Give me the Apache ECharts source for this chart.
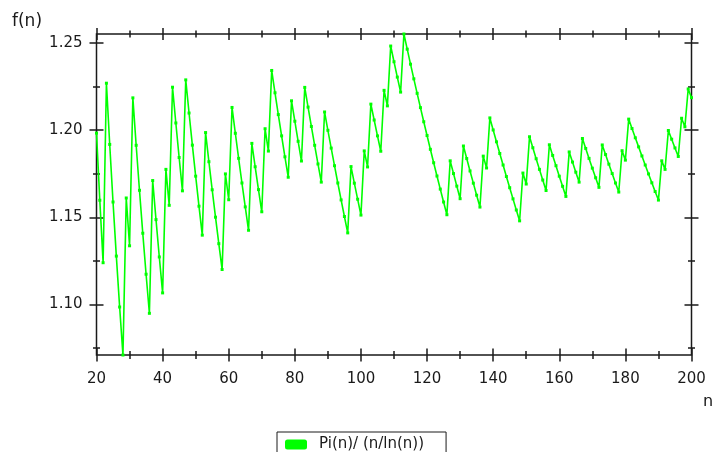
<!DOCTYPE html>
<html>
<head>
<meta charset="utf-8">
<script src="https://cdn.jsdelivr.net/npm/echarts@6/dist/echarts.min.js"></script>
<style>
  html, body { margin: 0; padding: 0; background: #fff; }
  #chart { width: 714px; height: 452px; }
</style>
</head>
<body>
<div id="chart"></div>
<script>
// n values 20..200
var nValues = [];
for (var k = 20; k <= 200; k++) { nValues.push(k); }

// Pi(n)/(n/ln(n)), one per n
var ratioValues = [
  1.1983, 1.1598, 1.1240, 1.2269, 1.1918, 1.1588, 1.1278, 1.0986, 1.0711, 1.1611,
  1.1337, 1.2185, 1.1913, 1.1655, 1.1409, 1.1174, 1.0950, 1.1711, 1.1487, 1.1273,
  1.1067, 1.1775, 1.1569, 1.2246, 1.2041, 1.1843, 1.1652, 1.2288, 1.2098, 1.1914,
  1.1736, 1.1564, 1.1398, 1.1986, 1.1819, 1.1658, 1.1501, 1.1349, 1.1201, 1.1749,
  1.1601, 1.2130, 1.1982, 1.1838, 1.1697, 1.1560, 1.1426, 1.1924, 1.1790, 1.1659,
  1.1532, 1.2008, 1.1880, 1.2342, 1.2214, 1.2089, 1.1967, 1.1847, 1.1730, 1.2168,
  1.2051, 1.1936, 1.1823, 1.2245, 1.2132, 1.2021, 1.1913, 1.1806, 1.1702, 1.2104,
  1.1999, 1.1897, 1.1796, 1.1697, 1.1600, 1.1505, 1.1411, 1.1791, 1.1696, 1.1604,
  1.1513, 1.1881, 1.1789, 1.2149, 1.2058, 1.1967, 1.1879, 1.2228, 1.2139, 1.2482,
  1.2392, 1.2304, 1.2218, 1.2551, 1.2464, 1.2378, 1.2294, 1.2211, 1.2129, 1.2048,
  1.1969, 1.1890, 1.1813, 1.1737, 1.1662, 1.1588, 1.1515, 1.1824, 1.1751, 1.1679,
  1.1607, 1.1909, 1.1837, 1.1766, 1.1696, 1.1627, 1.1559, 1.1851, 1.1783, 1.2070,
  1.2001, 1.1933, 1.1866, 1.1800, 1.1734, 1.1670, 1.1606, 1.1542, 1.1480, 1.1754,
  1.1691, 1.1962, 1.1899, 1.1836, 1.1775, 1.1714, 1.1654, 1.1916, 1.1855, 1.1796,
  1.1736, 1.1678, 1.1620, 1.1875, 1.1817, 1.1759, 1.1702, 1.1952, 1.1895, 1.1838,
  1.1782, 1.1727, 1.1672, 1.1915, 1.1860, 1.1805, 1.1751, 1.1697, 1.1645, 1.1882,
  1.1828, 1.2063, 1.2009, 1.1956, 1.1904, 1.1852, 1.1800, 1.1749, 1.1698, 1.1648,
  1.1599, 1.1824, 1.1775, 1.1998, 1.1948, 1.1898, 1.1849, 1.2068, 1.2019, 1.2236,
  1.2186
];

// tick positions
var xMajorTicks = [20, 40, 60, 80, 100, 120, 140, 160, 180, 200];
var xMinorTicks = [30, 50, 70, 90, 110, 130, 150, 170, 190];
var yMajorTicks = [1.10, 1.15, 1.20, 1.25];
var yMinorTicks = [1.075, 1.125, 1.175, 1.225];

var seriesName = 'Pi(n)/ (n/ln(n))';

var xMin = 20, xMax = 200;
var yMin = Math.min.apply(null, ratioValues);
var yMax = Math.max.apply(null, ratioValues);

var chart = echarts.init(document.getElementById('chart'));

var font = 'DejaVu Sans';
var ink = '#1a1a1a';

//one axis per tick set (major/minor, each side); offset lets the tick straddle the frame
function xAxisFor(pos, ticks, len, showLabel) {
  return {
    type: 'value', position: pos, min: xMin, max: xMax,
    offset: len / 2,
    axisLine: { show: false },
    splitLine: { show: false },
    axisTick: { show: true, inside: true, length: len, customValues: ticks,
      lineStyle: { color: ink, width: 1.5 } },
    axisLabel: { show: showLabel, customValues: ticks, margin: 10,
      color: ink, fontFamily: font, fontSize: 15 }
  };
}
function yAxisFor(pos, ticks, len, showLabel) {
  return {
    type: 'value', position: pos, min: yMin, max: yMax,
    offset: len / 2,
    axisLine: { show: false },
    splitLine: { show: false },
    axisTick: { show: true, inside: true, length: len, customValues: ticks,
      lineStyle: { color: ink, width: 1.5 } },
    axisLabel: { show: showLabel, customValues: ticks, margin: 7,
      color: ink, fontFamily: font, fontSize: 15,
      formatter: function (v) { return v.toFixed(2); } }
  };
}

var points = [];
for (var i = 0; i < nValues.length; i++) {
  points.push([nValues[i], ratioValues[i]]);
}

var option = {
  animation: false,
  backgroundColor: '#fff',
  grid: {
    left: 96.5, right: 22.5, top: 34, bottom: 97,
    show: true, borderColor: ink, borderWidth: 1.5, backgroundColor: 'transparent'
  },
  xAxis: [
    xAxisFor('bottom', xMajorTicks, 13, true),
    xAxisFor('bottom', xMinorTicks, 8, false),
    xAxisFor('top', xMajorTicks, 12, false),
    xAxisFor('top', xMinorTicks, 7, false)
  ],
  yAxis: [
    yAxisFor('left', yMajorTicks, 14, true),
    yAxisFor('left', yMinorTicks, 7, false),
    yAxisFor('right', yMajorTicks, 14, false),
    yAxisFor('right', yMinorTicks, 7, false)
  ],
  legend: {
    left: 277, top: 432,
    data: [seriesName],
    icon: 'roundRect',
    itemWidth: 22, itemHeight: 10,
    padding: [5, 22, 12, 8],
    borderColor: ink, borderWidth: 1,
    textStyle: { color: ink, fontFamily: font, fontSize: 15, padding: [0, 0, 0, 7] }
  },
  graphic: [
    { type: 'text', left: 12, top: 13,
      style: { text: 'f(n)', fill: ink, font: '17px "DejaVu Sans"' } },
    { type: 'text', left: 703, top: 394,
      style: { text: 'n', fill: ink, font: '16px "DejaVu Sans"' } }
  ],
  series: [{
    name: seriesName,
    type: 'line',
    xAxisIndex: 0, yAxisIndex: 0,
    data: points,
    showSymbol: true,
    symbol: 'rect',
    symbolSize: 3,
    itemStyle: { color: '#00ff00' },
    lineStyle: { color: '#00ff00', width: 1.6 },
    clip: false
  }]
};

chart.setOption(option);
</script>
</body>
</html>
